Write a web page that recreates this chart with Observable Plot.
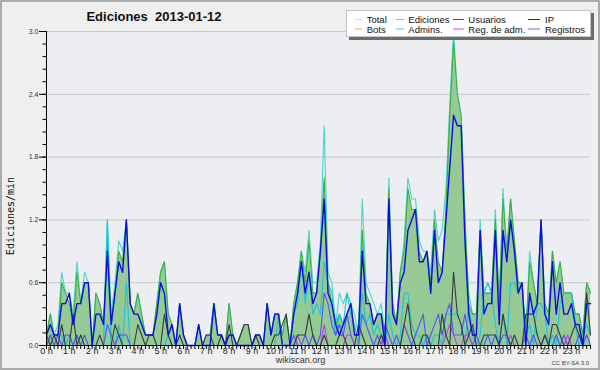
<!DOCTYPE html>
<html><head><meta charset="utf-8">
<script src="https://cdn.jsdelivr.net/npm/d3@7"></script>
<script src="https://cdn.jsdelivr.net/npm/@observablehq/plot@0.6"></script>
<style>
html,body{margin:0;padding:0;background:#efefef;}
#chart{position:relative;width:600px;height:370px;background:#efefef;overflow:hidden;}
#chart svg{position:absolute;left:0;top:0;}
#border{position:absolute;left:0;top:0;width:600px;height:370px;box-sizing:border-box;border:2px solid #ababab;pointer-events:none;}
</style></head><body>
<div id="chart"></div>
<script>
// ---- data (edits per minute, 10-minute slots, 2013-01-12) ----
const title = "Ediciones  2013-01-12";
const yLabel = "Ediciones/min";
const hourTicks = [0,1,2,3,4,5,6,7,8,9,10,11,12,13,14,15,16,17,18,19,20,21,22,23];
const majorTicks = [0, 0.6, 1.2, 1.8, 2.4, 3.0];
const legendNames = ["Total","Ediciones","Usuarios","IP","Bots","Admins.","Reg. de adm.","Registros"];

const total = [
0.1,0.3,0.1,0.2,0.7,0.5,0.5,0.3,0.8,0.4,0.7,0.6,
0.0,0.5,0.4,0.2,1.2,0.3,0.6,1.0,0.9,1.2,0.4,0.3,
0.5,0.3,0.1,0.1,0.1,0.4,0.7,0.8,0.3,0.2,0.0,0.4,
0.1,0.0,0.0,0.0,0.2,0.0,0.1,0.1,0.4,0.1,0.1,0.0,
0.4,0.1,0.0,0.1,0.2,0.2,0.0,0.1,0.1,0.0,0.4,0.1,
0.3,0.3,0.1,0.3,0.0,0.4,0.6,0.9,0.7,1.1,0.6,0.6,
1.0,2.1,0.7,0.6,0.2,0.5,0.4,0.5,0.4,0.3,0.1,1.4,
0.6,0.5,0.4,0.3,0.4,0.1,1.6,0.4,0.2,0.7,1.0,1.6,
1.4,1.4,1.0,0.9,0.9,0.7,1.3,1.0,1.1,1.5,2.3,3.0,
2.4,2.2,1.2,0.5,0.3,0.3,1.2,0.5,0.6,0.5,1.3,0.4,
1.5,0.9,1.4,1.0,0.6,0.6,0.1,0.9,0.6,0.4,1.2,0.4,
0.3,0.9,0.6,0.8,0.5,0.5,0.5,0.3,0.3,0.1,0.6,0.5];

const ediciones = [
0.1,0.3,0.1,0.1,0.6,0.5,0.4,0.2,0.7,0.4,0.6,0.6,
0.0,0.5,0.4,0.2,1.0,0.2,0.5,0.9,0.8,1.2,0.4,0.3,
0.5,0.3,0.1,0.1,0.1,0.4,0.7,0.8,0.3,0.2,0.0,0.4,
0.1,0.0,0.0,0.0,0.2,0.0,0.1,0.1,0.4,0.1,0.1,0.0,
0.4,0.1,0.0,0.1,0.2,0.2,0.0,0.1,0.1,0.0,0.4,0.1,
0.3,0.3,0.1,0.3,0.0,0.4,0.6,0.9,0.6,1.0,0.5,0.5,
0.9,1.6,0.6,0.4,0.2,0.3,0.2,0.3,0.4,0.1,0.1,1.1,
0.5,0.4,0.2,0.3,0.3,0.1,1.5,0.4,0.2,0.7,0.9,1.5,
1.3,1.3,0.9,0.8,0.9,0.6,1.2,0.8,0.7,1.3,2.2,2.9,
2.4,2.2,1.2,0.4,0.3,0.3,1.1,0.5,0.5,0.5,1.2,0.4,
1.4,0.9,1.4,1.0,0.6,0.6,0.1,0.8,0.6,0.4,1.2,0.4,
0.3,0.9,0.6,0.8,0.5,0.5,0.5,0.3,0.3,0.1,0.6,0.5];

const usuarios = [
0.1,0.2,0.1,0.1,0.4,0.4,0.5,0.2,0.4,0.4,0.6,0.6,
0.0,0.3,0.3,0.2,0.9,0.2,0.5,0.8,0.7,1.2,0.4,0.3,
0.3,0.2,0.1,0.1,0.1,0.3,0.6,0.5,0.1,0.2,0.0,0.4,
0.1,0.0,0.0,0.0,0.2,0.0,0.0,0.0,0.4,0.1,0.1,0.0,
0.1,0.1,0.0,0.0,0.0,0.0,0.0,0.1,0.1,0.0,0.4,0.1,
0.3,0.3,0.0,0.0,0.0,0.3,0.5,0.8,0.5,0.7,0.4,0.5,
0.9,1.4,0.5,0.4,0.2,0.1,0.2,0.3,0.4,0.1,0.1,0.9,
0.4,0.4,0.2,0.3,0.3,0.0,1.4,0.3,0.2,0.6,0.7,1.1,
1.2,1.3,0.8,0.8,0.9,0.5,1.1,0.6,0.7,1.2,1.7,2.2,
2.1,2.1,1.0,0.3,0.1,0.1,1.1,0.3,0.4,0.4,1.1,0.2,
1.1,0.8,1.2,0.9,0.5,0.6,0.0,0.5,0.3,0.4,1.2,0.3,
0.2,0.8,0.3,0.6,0.3,0.3,0.4,0.2,0.2,0.0,0.4,0.4];

const ip = [
0.1,0.0,0.1,0.0,0.2,0.0,0.0,0.3,0.0,0.1,0.0,0.0,
0.0,0.0,0.1,0.0,0.0,0.0,0.2,0.1,0.0,0.0,0.0,0.0,
0.2,0.1,0.0,0.1,0.1,0.0,0.0,0.3,0.1,0.0,0.0,0.1,
0.0,0.0,0.0,0.0,0.0,0.0,0.1,0.1,0.0,0.0,0.1,0.0,
0.2,0.0,0.0,0.1,0.2,0.2,0.0,0.1,0.0,0.0,0.0,0.0,
0.1,0.1,0.2,0.3,0.0,0.0,0.1,0.1,0.1,0.3,0.1,0.0,
0.0,0.1,0.0,0.0,0.0,0.1,0.1,0.0,0.0,0.0,0.2,0.1,
0.0,0.0,0.0,0.0,0.1,0.0,0.0,0.0,0.0,0.0,0.2,0.4,
0.1,0.0,0.0,0.1,0.1,0.0,0.0,0.0,0.3,0.1,0.0,0.7,
0.3,0.2,0.0,0.1,0.2,0.0,0.0,0.1,0.1,0.1,0.1,0.0,
0.3,0.1,0.0,0.1,0.0,0.0,0.3,0.3,0.3,0.1,0.0,0.1,
0.0,0.2,0.2,0.1,0.0,0.0,0.1,0.2,0.1,0.0,0.5,0.1];

const bots = [
0,0,0,0,0,0,0,0,0,0,0,0,
0,0,0,0,0,0,0,0,0,0,0,0,
0,0,0,0,0,0,0,0,0,0,0,0,
0,0,0,0,0,0,0,0,0,0,0,0,
0,0,0,0,0,0,0,0,0,0,0,0,
0,0,0,0,0,0,0,0,0,0,0,0,
0,0,0,0,0,0,0,0,0,0,0,0,
0,0,0,0,0,0,0,0,0,0,0,0,
0,0,0,0,0,0,0,0,0,0,0,0,
0,0,0,0,0,0,0,0,0,0,0,0,
0,0,0,0,0,0,0,0,0,0,0,0,
0,0,0,0,0,0,0,0,0,0,0,0];

const admins = [
0.0,0.1,0.1,0.1,0.1,0.0,0.1,0.0,0.1,0.0,0.0,0.0,
0.0,0.0,0.0,0.0,1.2,0.0,0.0,0.2,0.0,0.6,0.0,0.0,
0.0,0.0,0.0,0.0,0.0,0.0,0.0,0.0,0.1,0.0,0.0,0.0,
0.0,0.0,0.0,0.0,0.0,0.0,0.0,0.0,0.0,0.0,0.0,0.0,
0.0,0.0,0.0,0.0,0.0,0.0,0.0,0.0,0.0,0.0,0.0,0.0,
0.0,0.3,0.0,0.0,0.0,0.3,0.4,0.8,0.4,0.7,0.3,0.4,
0.3,0.8,0.6,0.5,0.1,0.3,0.2,0.5,0.3,0.2,0.0,0.5,
0.2,0.3,0.1,0.2,0.1,0.0,0.3,0.1,0.0,0.1,0.5,0.5,
0.2,0.1,0.1,0.0,0.1,0.0,0.1,0.1,0.0,0.3,0.3,0.3,
0.3,0.2,0.0,0.4,0.1,0.0,0.1,0.5,0.6,0.5,0.2,0.0,
0.3,0.0,0.6,0.6,0.5,0.6,0.1,0.2,0.0,0.4,0.4,0.3,
0.0,0.1,0.0,0.4,0.5,0.5,0.5,0.2,0.0,0.1,0.2,0.1];

const regAdm = [
0,0,0,0,0,0,0,0,0,0,0,0,
0,0,0,0,0,0,0,0,0,0,0,0,
0,0,0,0,0,0,0,0,0,0,0,0,
0,0,0,0,0,0,0,0,0,0,0,0,
0,0,0,0,0,0,0,0,0,0,0,0,
0,0,0,0,0,0,0.1,0,0,0,0,0,
0,0.2,0,0,0,0,0,0.1,0.1,0,0,0,
0,0,0,0,0,0.1,0,0,0,0,0,0,
0,0,0,0,0,0,0,0,0,0.1,0.2,0.1,
0,0,0.1,0.1,0,0,0,0,0,0,0,0,
0,0,0.1,0,0,0,0,0,0,0,0,0,
0,0,0,0,0,0.1,0,0,0,0,0,0];

const registros = [
0.0,0.1,0.0,0.1,0.0,0.1,0.1,0.0,0.1,0.0,0.1,0.0,
0.0,0.0,0.0,0.0,0.2,0.1,0.0,0.1,0.1,0.1,0.0,0.0,
0,0,0,0,0,0,0,0,0,0,0,0,
0,0,0,0,0,0,0,0,0,0,0,0,
0,0,0,0,0,0,0,0,0,0,0,0,
0.0,0.0,0.0,0.0,0.0,0.1,0.0,0.0,0.1,0.0,0.1,0.0,
0.1,0.5,0.4,0.2,0.1,0.2,0.1,0.3,0.1,0.0,0.0,0.3,
0.2,0.1,0.0,0.1,0.0,0.2,0.1,0.0,0.1,0.0,0.2,0.1,
0.0,0.1,0.2,0.3,0.0,0.1,0.2,0.3,0.1,0.3,0.4,0.1,
0.1,0.1,0.3,0.1,0.0,0.1,0.0,0.0,0.1,0.0,0.1,0.0,
0.1,0.1,0.0,0.0,0.0,0.0,0.1,0.0,0.1,0.0,0.0,0.1,
0.0,0.0,0.1,0.0,0.1,0.0,0.0,0.0,0.1,0.0,0.1,0.0];

// ---- chart ----
for (const [n, a] of Object.entries({total, ediciones, usuarios, ip, bots, admins, regAdm, registros}))
  if (a.length !== 144) throw new Error(n + " has " + a.length);

const slots = d3.range(144).map(i => i / 6);          // hours, 10-min slots
const minorTicks = d3.range(26).map(k => +(k * 0.12).toFixed(2));
const xOf = (d, i) => slots[i];

const lineSeries = [
  {values: total,     stroke: "#48d6cc", w: 1.1},
  {values: ediciones, stroke: "#3db13d", w: 1.1},
  {values: admins,    stroke: "#1ec2dc", w: 1.1},
  {values: registros, stroke: "#5252ff", w: 1.1},
  {values: regAdm,    stroke: "#c83ae8", w: 1.1},
  {values: bots,      stroke: "#ff9a1e", w: 1.1},
  {values: ip,        stroke: "#3a3a3a", w: 1.1},
  {values: usuarios,  stroke: "#0d0ddc", w: 1.4}
];

const svg = Plot.plot({
  width: 600, height: 370,
  marginLeft: 46, marginRight: 10, marginTop: 31, marginBottom: 25,
  x: {domain: [0, 143 / 6]},
  y: {domain: [0, 3]},
  style: {background: "transparent", fontFamily: "Liberation Sans, Arial, sans-serif", overflow: "visible"},
  marks: [
    Plot.frame({fill: "#eceef1", stroke: "none"}),
    Plot.ruleY(majorTicks.slice(1), {stroke: "#c8c8c8"}),
    Plot.areaY(ediciones, {x: xOf, y: d => d, fill: "#95ca95"}),
    ...lineSeries.map(s => Plot.lineY(s.values, {x: xOf, y: d => d, stroke: s.stroke, strokeWidth: s.w})),
    Plot.ruleX([0], {stroke: "#000"}),
    Plot.ruleY([0], {stroke: "#000"}),
    Plot.axisY(minorTicks, {tickSize: 3.5, tickFormat: () => "", label: null, stroke: "#000"}),
    Plot.axisY(majorTicks, {tickSize: 7, tickPadding: 1, tickFormat: d3.format(".1f"), fontSize: 7, label: null, stroke: "#000", fill: "#333"}),
    Plot.axisX(slots, {tickSize: 4, tickFormat: () => "", label: null, stroke: "#000"}),
    Plot.axisX(hourTicks, {tickSize: 0, tickPadding: 2, tickFormat: d => d + " h", fontSize: 9, label: null, fill: "#222"})
  ]
});
const chart = document.getElementById("chart");
chart.appendChild(svg);

// ---- overlay texts and legend ----
const legendColors = ["#a6ecec","#7fd07f","#3a3aff","#333333","#ffa030","#40d0e0","#e040f0","#6a6aff"];
const colText = [366.7, 408.3, 468.3, 545];
const colSw = [[355,362],[396,404],[453,464],[528,540]];
const rowBase = [23.3, 33];
const rowSw = [19.5, 29];
let leg = "";
legendNames.forEach((name, k) => {
  const r = Math.floor(k / 4), c = k % 4;
  leg += `<line x1="${colSw[c][0]}" x2="${colSw[c][1]}" y1="${rowSw[r]}" y2="${rowSw[r]}" stroke="${legendColors[k]}" stroke-width="1"/>`;
  leg += `<text x="${colText[c]}" y="${rowBase[r]}" font-size="9.5" fill="#111">${name}</text>`;
});
const ov = document.createElement("div");
ov.innerHTML = `<svg width="600" height="370" font-family="Liberation Sans, Arial, sans-serif">
<text x="154" y="20.5" text-anchor="middle" font-size="13" font-weight="bold" fill="#111" xml:space="preserve">${title}</text>
<text transform="translate(13.5,216) rotate(-90)" text-anchor="middle" font-family="DejaVu Sans Mono" font-size="10" fill="#111">${yLabel}</text>
<text x="300.5" y="363" text-anchor="middle" font-size="9" fill="#333">wikiscan.org</text>
<text x="589" y="364.5" text-anchor="end" font-size="6" fill="#444">CC BY-SA 3.0</text>
<rect x="349" y="13" width="245" height="27" fill="#6b6b6b"/>
<rect x="346.5" y="10.5" width="244" height="26" fill="#ffffff" stroke="#c4c4c4"/>
${leg}
</svg>`;
chart.appendChild(ov.firstElementChild);
const b = document.createElement("div"); b.id = "border"; chart.appendChild(b);
</script>
</body></html>
